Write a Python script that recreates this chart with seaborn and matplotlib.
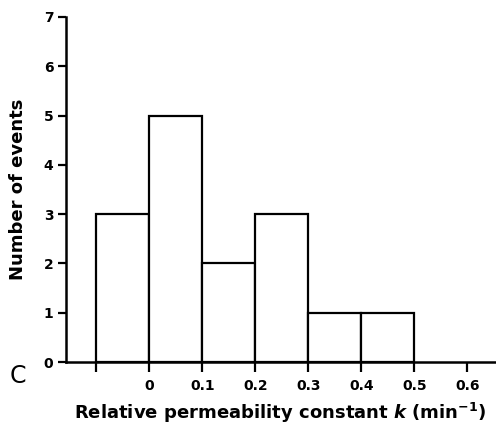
import matplotlib
matplotlib.use("Agg")
import matplotlib.pyplot as plt
import seaborn as sns
import numpy as np

bin_edges = [-0.1, 0.0, 0.1, 0.2, 0.3, 0.4, 0.5]
counts = [3, 5, 2, 3, 1, 1]
x_ticks = [-0.1, 0, 0.1, 0.2, 0.3, 0.4, 0.5, 0.6]
x_tick_labels = ["", "0", "0.1", "0.2", "0.3", "0.4", "0.5", "0.6"]
y_ticks = [0, 1, 2, 3, 4, 5, 6, 7]

sns.set_style("ticks")
plt.rcParams['font.family'] = ['DejaVu Sans']
plt.rcParams['mathtext.fontset'] = 'dejavusans'
for k in ["text.color", "axes.labelcolor", "xtick.color", "ytick.color", "axes.edgecolor"]:
    plt.rcParams[k] = "black"

centers = [(a + b) / 2 for a, b in zip(bin_edges[:-1], bin_edges[1:])]

fig = plt.figure(figsize=(4.96, 4.34), dpi=100)
ax = fig.add_axes([66/496, 1 - 362/434, (495 - 66)/496, (362 - 17)/434])

sns.histplot(x=centers, weights=counts, bins=bin_edges, ax=ax,
             color="white", edgecolor="black", linewidth=1.6, alpha=1)

ax.set_xlim(-0.157, 0.652)
ax.set_ylim(0, 7)
ax.set_xticks(x_ticks)
ax.set_xticklabels(x_tick_labels, fontsize=10, fontweight="bold")
ax.set_yticks(y_ticks)
ax.set_yticklabels([str(v) for v in y_ticks], fontsize=10, fontweight="bold")
ax.tick_params(axis="x", direction="out", length=7, width=1.6, pad=5, colors="black")
ax.tick_params(axis="y", direction="out", length=6, width=1.6, pad=3, colors="black")
for s in ["top", "right"]:
    ax.spines[s].set_visible(False)
for s in ["left", "bottom"]:
    ax.spines[s].set_linewidth(1.8)
    ax.spines[s].set_color("black")

ax.set_ylabel("Number of events", fontsize=13, fontweight="bold", labelpad=12, color="black")
ax.set_xlabel(r"Relative permeability constant $\boldsymbol{k}$ (min$^{\mathbf{-1}}$)",
              fontsize=13, fontweight="bold", labelpad=6, color="black")

fig.text(10/496, 1 - 376/434, "C", fontsize=17, ha="left", va="center", color="black")

fig.savefig("out.png", dpi=100)
